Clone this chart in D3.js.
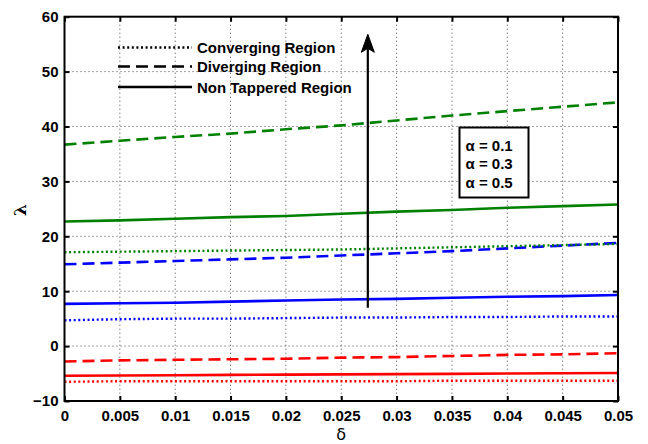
<!DOCTYPE html>
<html>
<head>
<meta charset="utf-8">
<script src="https://cdn.jsdelivr.net/npm/d3@7"></script>
<style>
  html, body { margin: 0; padding: 0; background: #fff; }
  svg { display: block; font-family: "Liberation Sans", Arial, sans-serif; }
</style>
</head>
<body>
<svg id="chart" width="648" height="444"></svg>
<script>
// δ values along the horizontal axis
const delta = [0, 0.005, 0.01, 0.015, 0.02, 0.025, 0.03, 0.035, 0.04, 0.045, 0.05];

// λ for α = 0.1 (red)
const convA1 = [-6.5, -6.4, -6.4, -6.4, -6.4, -6.4, -6.4, -6.3, -6.3, -6.3, -6.3];
const divA1  = [-2.8, -2.6, -2.5, -2.4, -2.3, -2.1, -2.0, -1.8, -1.6, -1.5, -1.3];
const nonA1  = [-5.4, -5.35, -5.3, -5.25, -5.2, -5.15, -5.1, -5.05, -5.0, -4.95, -4.9];

// λ for α = 0.3 (blue)
const convA3 = [4.7, 4.9, 5.0, 5.0, 5.1, 5.2, 5.2, 5.3, 5.3, 5.4, 5.4];
const divA3  = [14.9, 15.2, 15.5, 15.8, 16.1, 16.5, 16.9, 17.3, 17.8, 18.3, 18.8];
const nonA3  = [7.7, 7.8, 7.9, 8.1, 8.3, 8.5, 8.6, 8.8, 9.0, 9.1, 9.3];

// λ for α = 0.5 (green)
const convA5 = [17.1, 17.2, 17.3, 17.4, 17.5, 17.6, 17.8, 18.0, 18.2, 18.4, 18.6];
const divA5  = [36.7, 37.4, 38.1, 38.7, 39.5, 40.2, 41.1, 42.0, 42.8, 43.6, 44.4];
const nonA5  = [22.7, 22.9, 23.2, 23.5, 23.7, 24.1, 24.5, 24.8, 25.2, 25.5, 25.8];

// tick values
const xTicks = [0, 0.005, 0.01, 0.015, 0.02, 0.025, 0.03, 0.035, 0.04, 0.045, 0.05];
const xTickLabels = ["0", "0.005", "0.01", "0.015", "0.02", "0.025", "0.03", "0.035", "0.04", "0.045", "0.05"];
const yTicks = [-10, 0, 10, 20, 30, 40, 50, 60];

// legend entries and α annotation
const legendLabels = ["Converging Region", "Diverging Region", "Non Tappered Region"];
const alphaLabels = ["α = 0.1", "α = 0.3", "α = 0.5"];

// increasing-α arrow: δ position and λ range
const arrowDelta = 0.0274;
const arrowLambda = [7.0, 56.8];

const colors = { a1: "#ff0000", a3: "#0000ff", a5: "#008000" };
const styles = {
  conv: { dash: "2,2.6", width: 2.4 },
  div:  { dash: "12,6", width: 2.6 },
  non:  { dash: null, width: 2.6 }
};

const series = [
  { values: convA1, color: colors.a1, style: styles.conv },
  { values: divA1,  color: colors.a1, style: styles.div },
  { values: nonA1,  color: colors.a1, style: styles.non },
  { values: convA3, color: colors.a3, style: styles.conv },
  { values: divA3,  color: colors.a3, style: styles.div },
  { values: nonA3,  color: colors.a3, style: styles.non },
  { values: convA5, color: colors.a5, style: styles.conv },
  { values: divA5,  color: colors.a5, style: styles.div },
  { values: nonA5,  color: colors.a5, style: styles.non }
];

const svg = d3.select("#chart");
const L = 64.5, R = 618, T = 16.7, B = 401;

const x = d3.scaleLinear().domain([0, 0.05]).range([L, R]);
const y = d3.scaleLinear().domain([-10, 60]).range([B, T]);

// dotted grid
const grid = svg.append("g").attr("stroke", "#444").attr("stroke-width", 1)
  .attr("stroke-dasharray", "1,3");
grid.selectAll(".gx").data(xTicks.slice(1, -1)).join("line")
  .attr("x1", d => x(d)).attr("x2", d => x(d)).attr("y1", T).attr("y2", B);
grid.selectAll(".gy").data(yTicks.slice(1, -1)).join("line")
  .attr("y1", d => y(d)).attr("y2", d => y(d)).attr("x1", L).attr("x2", R);

// curves
const line = d3.line().x((d, i) => x(delta[i])).y(d => y(d));
svg.append("g").selectAll("path").data(series).join("path")
  .attr("d", d => line(d.values))
  .attr("fill", "none")
  .attr("stroke", d => d.color)
  .attr("stroke-width", d => d.style.width)
  .attr("stroke-dasharray", d => d.style.dash);

// axes with inward ticks on all four sides
const fmt = (d, i) => xTickLabels[i];
const axB = svg.append("g").attr("transform", `translate(0,${B})`)
  .call(d3.axisBottom(x).tickValues(xTicks).tickFormat(fmt).tickSizeInner(-5).tickSizeOuter(0).tickPadding(9));
const axT = svg.append("g").attr("transform", `translate(0,${T})`)
  .call(d3.axisTop(x).tickValues(xTicks).tickFormat("").tickSizeInner(-5).tickSizeOuter(0));
const axL = svg.append("g").attr("transform", `translate(${L},0)`)
  .call(d3.axisLeft(y).tickValues(yTicks).tickSizeInner(-5).tickSizeOuter(0).tickPadding(6));
const axR = svg.append("g").attr("transform", `translate(${R},0)`)
  .call(d3.axisRight(y).tickValues(yTicks).tickFormat("").tickSizeInner(-5).tickSizeOuter(0));

[axB, axT, axL, axR].forEach(a => {
  a.select(".domain").remove();
  a.selectAll(".tick line").attr("stroke", "#000").attr("stroke-width", 2);
  a.selectAll("text").attr("fill", "#000").attr("font-size", 15).attr("font-weight", "bold")
    .attr("font-family", "'Liberation Sans', Arial, sans-serif");
});

// plot box
svg.append("rect").attr("x", L).attr("y", T).attr("width", R - L).attr("height", B - T)
  .attr("fill", "none").attr("stroke", "#000").attr("stroke-width", 2);

// axis labels
svg.append("text").attr("x", x(0.025)).attr("y", 440)
  .attr("text-anchor", "middle").attr("font-size", 16)
  .attr("font-family", "'DejaVu Sans', sans-serif").text("δ");
svg.append("text").attr("transform", `translate(26,${y(24.8)}) rotate(-90)`)
  .attr("text-anchor", "middle").attr("font-size", 17).attr("font-weight", "bold")
  .attr("font-family", "'DejaVu Serif', serif").text("λ");

// line-style legend (no frame)
const lg = svg.append("g");
const legStyles = [styles.conv, styles.div, styles.non];
const legY = [47.5, 66.5, 87];
legendLabels.forEach((t, i) => {
  lg.append("line").attr("x1", 118).attr("x2", 192).attr("y1", legY[i]).attr("y2", legY[i])
    .attr("stroke", "#000").attr("stroke-width", legStyles[i].width)
    .attr("stroke-dasharray", legStyles[i].dash);
  lg.append("text").attr("x", 197).attr("y", legY[i] + 5.5)
    .attr("font-size", 15).attr("font-weight", "bold").text(t);
});

// arrow showing increasing α
const ax0 = x(arrowDelta), ay0 = y(arrowLambda[0]), ay1 = y(arrowLambda[1]);
svg.append("line").attr("x1", ax0).attr("x2", ax0).attr("y1", ay0).attr("y2", ay1 + 14)
  .attr("stroke", "#000").attr("stroke-width", 2.2);
svg.append("path")
  .attr("d", `M${ax0},${ay1} L${ax0 - 6.5},${ay1 + 18} L${ax0},${ay1 + 14} L${ax0 + 6.5},${ay1 + 18} Z`)
  .attr("fill", "#000").attr("stroke", "#000").attr("stroke-width", 1);

// α annotation box
svg.append("rect").attr("x", 459.5).attr("y", 127.5).attr("width", 69).attr("height", 70)
  .attr("fill", "#fff").attr("stroke", "#000").attr("stroke-width", 2);
alphaLabels.forEach((t, i) => {
  svg.append("text").attr("x", 465.5).attr("y", 150.5 + i * 18.7)
    .attr("font-size", 15).attr("font-weight", "bold").text(t);
});
</script>
</body>
</html>
